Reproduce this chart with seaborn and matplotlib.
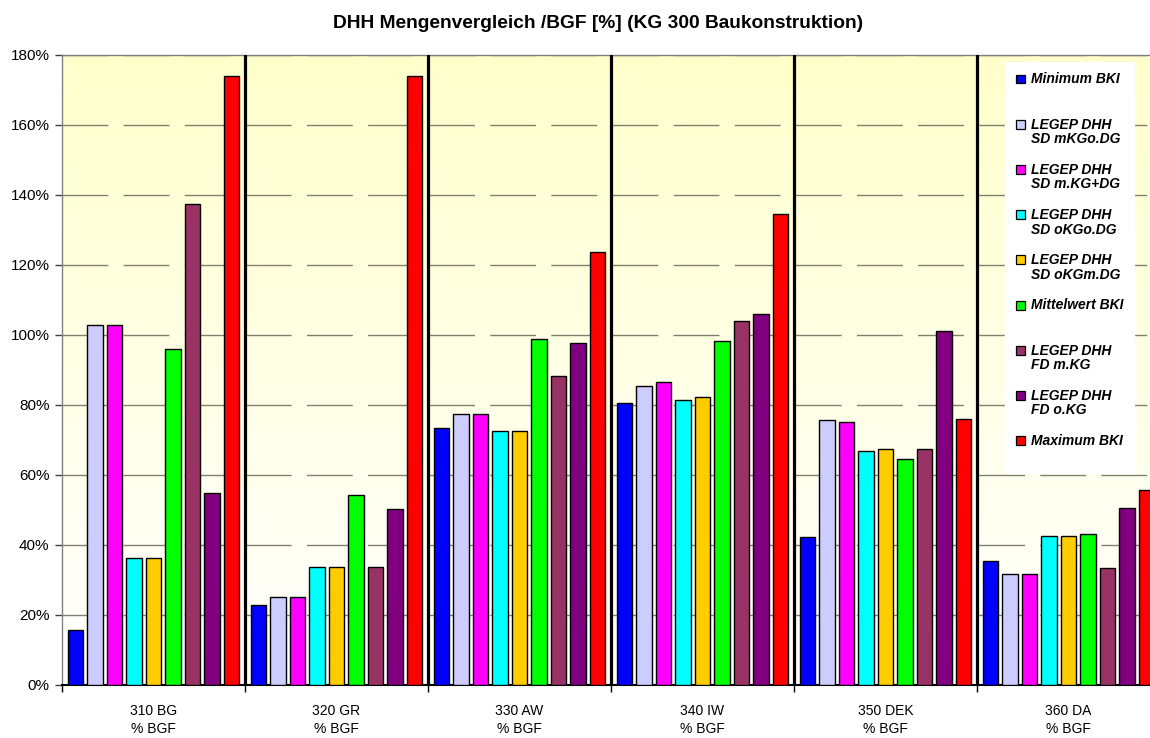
import numpy as np
import pandas as pd
import matplotlib
matplotlib.use("Agg")
import matplotlib.pyplot as plt
import seaborn as sns
from matplotlib.patches import Patch, Rectangle
from matplotlib.legend_handler import HandlerPatch
from matplotlib.ticker import FuncFormatter, FixedLocator

# ---------------- data ----------------
categories = ["310 BG\n% BGF", "320 GR\n% BGF", "330 AW\n% BGF",
              "340 IW\n% BGF", "350 DEK\n% BGF", "360 DA\n% BGF"]
series_names = ["Minimum BKI", "LEGEP DHH\nSD mKGo.DG", "LEGEP DHH\nSD m.KG+DG",
                "LEGEP DHH\nSD oKGo.DG", "LEGEP DHH\nSD oKGm.DG", "Mittelwert BKI",
                "LEGEP DHH\nFD m.KG", "LEGEP DHH\nFD o.KG", "Maximum BKI"]
minimum_bki    = [15.7, 22.9, 73.3, 80.5, 42.2, 35.5]
sd_mkgo_dg     = [102.9, 25.1, 77.3, 85.4, 75.8, 31.7]
sd_mkg_dg      = [102.9, 25.1, 77.3, 86.7, 75.1, 31.7]
sd_okgo_dg     = [36.4, 33.6, 72.5, 81.3, 67.0, 42.5]
sd_okgm_dg     = [36.4, 33.6, 72.5, 82.2, 67.3, 42.5]
mittelwert_bki = [96.1, 54.3, 99.0, 98.3, 64.7, 43.1]
fd_mkg         = [137.5, 33.6, 88.2, 104.0, 67.3, 33.5]
fd_okg         = [54.8, 50.4, 97.8, 106.0, 101.1, 50.5]
maximum_bki    = [174.0, 174.0, 123.7, 134.5, 76.1, 55.6]
colors = ["#0000FF", "#CCCCFF", "#FF00FF", "#00FFFF", "#FFCC00",
          "#00FF00", "#993366", "#800080", "#FF0000"]
y_ticks = [0, 20, 40, 60, 80, 100, 120, 140, 160, 180]
title = "DHH Mengenvergleich /BGF [%] (KG 300 Baukonstruktion)"

values = [minimum_bki, sd_mkgo_dg, sd_mkg_dg, sd_okgo_dg, sd_okgm_dg,
          mittelwert_bki, fd_mkg, fd_okg, maximum_bki]
rows = []
for name, vals in zip(series_names, values):
    for cat, v in zip(categories, vals):
        rows.append({"Kategorie": cat, "Serie": name, "Wert": v})
df = pd.DataFrame(rows)

# ---------------- style ----------------
sns.set_style("white")
plt.rcParams["font.family"] = ["Liberation Sans", "DejaVu Sans"]
plt.rcParams["text.color"] = "black"
plt.rcParams["xtick.labelcolor"] = "black"
plt.rcParams["ytick.labelcolor"] = "black"

W, H = 1150, 738
fig = plt.figure(figsize=(W / 100, H / 100), dpi=100)
fig.patch.set_facecolor("white")
ax = fig.add_axes([62 / W, 1 - 685 / H, (1160 - 62) / W, (685 - 55) / H])
ax.set_facecolor("none")

# background gradient (light yellow top -> white bottom)
grad = np.linspace(0, 1, 256).reshape(-1, 1)
top = np.array([1.0, 1.0, 0.80])
bot = np.array([1.0, 1.0, 1.0])
img = top[None, None, :] * (1 - grad[:, :, None]) + bot[None, None, :] * grad[:, :, None]
ax.imshow(img, extent=[0, 1, 0, 1], transform=ax.transAxes, aspect="auto",
          zorder=0, interpolation="bilinear")

sns.barplot(data=df, x="Kategorie", y="Wert", hue="Serie", order=categories,
            hue_order=series_names, palette=colors, saturation=1.0,
            width=0.96, gap=0.22, edgecolor="black", linewidth=1.0,
            errorbar=None, legend=False, ax=ax, zorder=3)

ax.set_xlim(-0.5, len(categories) - 0.5)
ax.set_ylim(0, 180)

# grid
ax.set_axisbelow(True)
ax.yaxis.grid(True, color="#808070", linewidth=1.0, linestyle=(0, (33.0, 11.0)))
ax.xaxis.grid(False)

# group separators
for b in np.arange(0.5, len(categories) - 0.5, 1.0):
    ax.axvline(b, color="black", linewidth=2.3, zorder=4)

# axes / ticks
ax.set_yticks(y_ticks)
ax.yaxis.set_major_formatter(FuncFormatter(lambda v, p: f"{v:.0f}%"))
ax.tick_params(axis="y", which="major", length=5, width=1, color="#404040",
               direction="out", labelsize=11, pad=4, left=True,
               labelcolor="black")
ax.set_xticks(range(len(categories)))
ax.set_xticklabels(categories)
ax.xaxis.set_minor_locator(FixedLocator(np.arange(-0.5, len(categories), 1.0)))
ax.tick_params(axis="x", which="major", length=0, labelsize=10, pad=14,
               labelcolor="black")
ax.tick_params(axis="x", which="minor", length=5, width=1, color="black",
               direction="out", bottom=True)
for lbl in ax.get_xticklabels():
    lbl.set_linespacing(1.35)
ax.set_xlabel("")
ax.set_ylabel("")

for side in ["top", "left"]:
    ax.spines[side].set_color("#808080")
    ax.spines[side].set_linewidth(1.0)
ax.spines["bottom"].set_color("black")
ax.spines["bottom"].set_linewidth(1.5)
ax.spines["right"].set_visible(False)

# title
fig.text(598 / W, 1 - 23 / H, title, ha="center", va="center",
         fontsize=13.8, fontweight="bold", color="black")

# legend
class SquareHandler(HandlerPatch):
    def create_artists(self, legend, orig_handle, xdescent, ydescent, width,
                       height, fontsize, trans):
        s = 0.64 * fontsize
        cx = -xdescent + width / 2
        cy = -ydescent + height / 2 + 0.6 * fontsize
        r = Rectangle((cx - s / 2, cy - s / 2), s, s,
                      facecolor=orig_handle.get_facecolor(),
                      edgecolor="black", linewidth=0.9, transform=trans)
        return [r]

handles = [Patch(facecolor=c, edgecolor="black") for c in colors]
labels = [n if "\n" in n else n + "\n " for n in series_names]
leg = ax.legend(handles, labels, handler_map={Patch: SquareHandler()},
                loc="upper left", bbox_to_anchor=(1005 / W, 1 - 62 / H),
                bbox_transform=fig.transFigure, borderaxespad=0,
                frameon=True, fancybox=False, framealpha=1.0,
                facecolor="white", edgecolor="white",
                prop={"size": 10, "weight": "bold", "style": "italic"},
                handlelength=0.7, handletextpad=0.45, borderpad=0.75,
                labelspacing=1.2)
leg.set_zorder(10)
for t in leg.get_texts():
    t.set_linespacing(1.05)
    t.set_color("black")

fig.savefig("out.png", dpi=100, facecolor="white")
